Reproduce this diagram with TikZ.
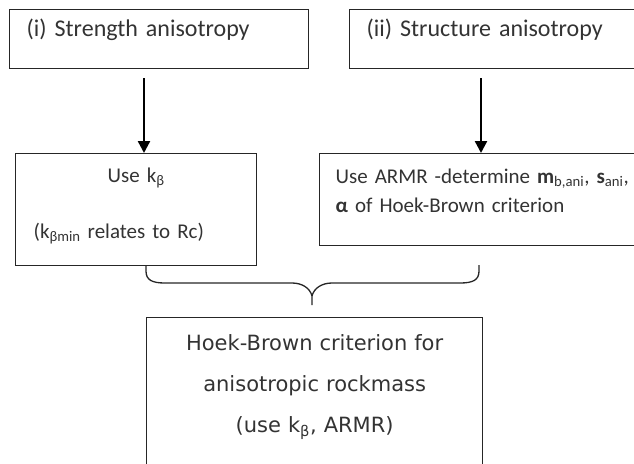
\documentclass[tikz,border=0pt]{standalone}
\usepackage{fontspec}
\setmainfont{Carlito}
\newfontfamily\hbfont{DejaVu Sans}
\usetikzlibrary{arrows.meta}

\begin{document}
\begin{tikzpicture}[x=1pt, y=-1pt, >={Triangle[width=12pt,length=12pt]},
	box/.style={draw=black!85, line width=1.3pt, inner ysep=0pt, anchor=north west, text=black!80},
	wordtxt/.style={font=\fontsize{21}{28}\selectfont},
	feed/.style={->, line width=2.4pt, shorten <=9pt},
	bracepath/.style={draw=black!85, line width=1.3pt}]
	\useasboundingbox (0,0) rectangle (634,463);
	
	\node[box, font=\fontsize{24}{29}\selectfont, text width=265pt, inner xsep=17pt, align=left, text height=27pt, text depth=32pt] (strength) at (9,9) {(i) Strength anisotropy};
	\node[box, font=\fontsize{24}{29}\selectfont, text width=299pt, inner xsep=17pt, align=left, text height=27pt, text depth=32pt] (structure) at (349,9) {(ii) Structure anisotropy};
	
	\node[box, wordtxt, text width=205pt, inner xsep=18pt, align=left, text height=29pt, text depth=83pt] (usek) at (15,153) {{\centering Use k\textsubscript{β}\par}\vspace{28pt}(k\textsubscript{βmin} relates to Rc)};
	\node[box, font=\fontsize{21}{29}\selectfont, text width=400pt, inner xsep=16pt, align=left, text height=30pt, text depth=62pt] (armr) at (319,153) {Use ARMR -determine \textbf{m}\textsubscript{b,ani}, \textbf{s}\textsubscript{ani},\par \textbf{α} of Hoek-Brown criterion};
	
	\node[box, font=\hbfont\fontsize{21}{41}\selectfont, text width=316pt, inner xsep=10pt, align=center, text height=33pt, text depth=140pt] (hoek) at (146,317) {Hoek-Brown criterion for\par anisotropic rockmass\par (use k\textsubscript{β}, ARMR)};
	
	\draw[feed] ([xshift=135pt]strength.south west) -- ([xshift=135pt]strength.south west |- usek.north);
	\draw[feed] ([xshift=132pt]structure.south west) -- ([xshift=132pt]structure.south west |- armr.north);
	
	% brace joining the two methods
	\draw[bracepath] (146,265) -- (146,271) .. controls (146,280) and (152,283) .. (165,283) -- (292,283) .. controls (302,283) and (310,288) .. (312,296) -- (312,305);
	\draw[bracepath] (479,265) -- (479,271) .. controls (479,280) and (473,283) .. (460,283) -- (332,283) .. controls (322,283) and (314,288) .. (312,296);
\end{tikzpicture}
\end{document}
